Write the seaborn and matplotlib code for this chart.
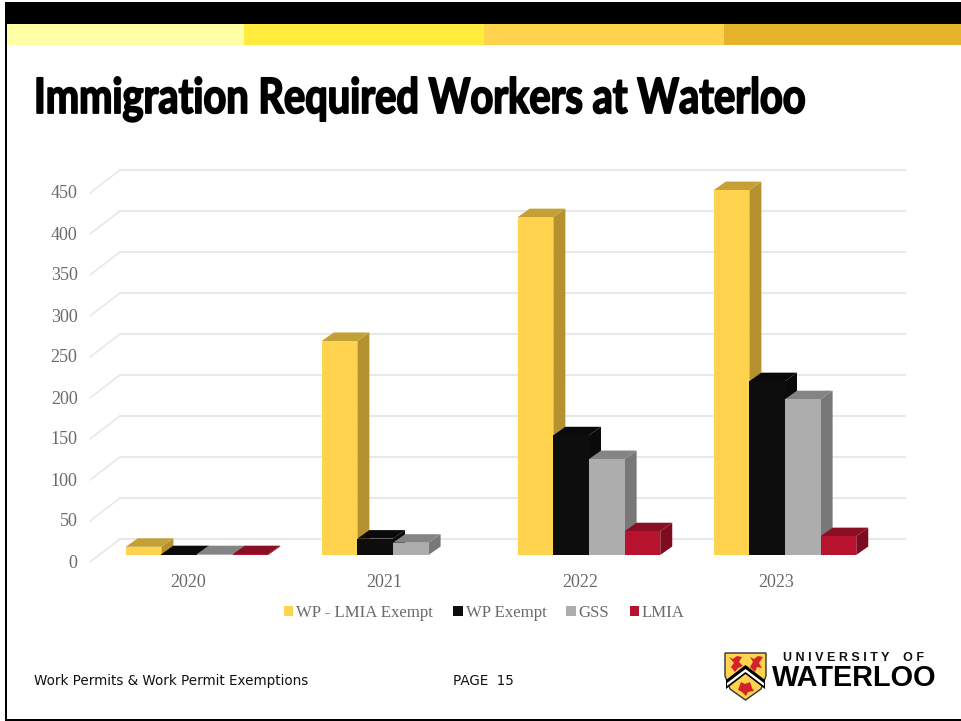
import matplotlib
matplotlib.use("Agg")
import matplotlib.pyplot as plt
import pandas as pd
import seaborn as sns
from matplotlib.patches import Polygon, Rectangle, Patch
from matplotlib.patheffects import AbstractPathEffect
from matplotlib.transforms import Affine2D

years = ["2020", "2021", "2022", "2023"]
wp_lmia_exempt = [10, 261, 412, 445]
wp_exempt = [1, 20, 146, 212]
gss = [1, 15, 117, 190]
lmia = [1, 0, 29, 23]
series_names = ["WP - LMIA Exempt", "WP Exempt", "GSS", "LMIA"]
y_ticks = [0, 50, 100, 150, 200, 250, 300, 350, 400, 450]

front = ["#FFD34D", "#0D0D0D", "#ADADAD", "#B7132F"]
side = ["#B5922F", "#0A0A0A", "#787878", "#7E0C20"]
top = ["#C5A036", "#0A0A0A", "#848484", "#8A0E24"]
strips = ["#FFFFA5", "#FFEC3C", "#FFD34D", "#E5B42B"]
text_grey = "#6A6A6A"
grid_grey = "#E8E8E8"
serif = ["Liberation Serif", "DejaVu Serif"]

W, H = 961, 721
DPI = 100
PX_PER_UNIT = 0.82
BAR_DEPTH_X, BAR_DEPTH_Y = 12, 8.5
WALL_X, WALL_Y = 30, 16


class Condensed(AbstractPathEffect):
    """Rescale glyph outlines about a pixel origin and thicken them."""

    def __init__(self, origin, scale_x, scale_y, stroke):
        super().__init__()
        self.origin, self.scale_x, self.scale_y, self.stroke = origin, scale_x, scale_y, stroke

    def draw_path(self, renderer, gc, tpath, affine, rgbFace=None):
        ox, oy = self.origin
        squeezed = affine + Affine2D().translate(-ox, -oy).scale(self.scale_x, self.scale_y).translate(ox, oy)
        gc0 = renderer.new_gc()
        gc0.copy_properties(gc)
        gc0.set_linewidth(self.stroke)
        gc0.set_foreground(rgbFace)
        renderer.draw_path(gc0, tpath, squeezed, rgbFace)
        gc0.restore()


sns.set_theme(style="white")
fig = plt.figure(figsize=(W / DPI, H / DPI), dpi=DPI, facecolor="white")

# Slide furniture is laid out in pixel units on a backing axes
bg = fig.add_axes([0, 0, 1, 1], zorder=0)
bg.set_xlim(0, W)
bg.set_ylim(H, 0)
bg.axis("off")
bg.add_patch(Rectangle((5, 2), W - 5, 22, color="black", lw=0))
bg.add_patch(Rectangle((5, 2), 2, H - 2, color="black", lw=0))
bg.add_patch(Rectangle((5, 719), W - 5, 2, color="black", lw=0))
for x0, x1, c in zip([7, 244, 484, 724], [244, 484, 724, W], strips):
    bg.add_patch(Rectangle((x0, 24), x1 - x0, 21, color=c, lw=0))

title = bg.text(34, 113, "Immigration Required Workers at Waterloo", fontsize=31,
                family=["Lato", "Liberation Sans"], weight="bold",
                color="black", va="baseline", ha="left")
fig.canvas.draw()
title_width = title.get_window_extent(fig.canvas.get_renderer()).width
title.set_path_effects([Condensed((34, H - 113), 771 / title_width, 35 / 31, 1.3)])

bg.text(34, 681, "Work Permits & Work Permit Exemptions", fontsize=9.72,
        family="DejaVu Sans", color="#111111", va="center")
bg.text(453, 681, "PAGE  15", fontsize=9.72, family="DejaVu Sans",
        color="#111111", va="center")

# University crest
bg.add_patch(Polygon([(725, 653), (766, 653), (766, 676), (761, 689), (745.5, 700),
                      (730, 689), (725, 676)], fc="#FFD34D", ec="#333333", lw=1))
bg.add_patch(Polygon([(726, 680), (745.5, 665), (765, 680), (765, 689), (745.5, 674),
                      (726, 689)], fc="black", lw=0))
bg.add_patch(Polygon([(727, 683), (745.5, 669), (764, 683), (764, 686), (745.5, 672),
                      (727, 686)], fc="white", lw=0))
for pts in ([(729, 657), (733, 659), (737, 656), (742, 657), (739, 662), (743, 666), (738, 668),
             (735, 672), (731, 667), (734, 663)],
            [(750, 657), (754, 659), (758, 656), (763, 657), (759, 663), (762, 668), (757, 667),
             (755, 672), (750, 667), (753, 662)],
            [(741, 682), (745, 684), (750, 682), (752, 688), (754, 691), (748, 692), (746, 696),
             (742, 692), (738, 690)]):
    bg.add_patch(Polygon(pts, fc="#D2232A", lw=0))
bg.text(783, 658, "U N I V E R S I T Y    O F", fontsize=9, family="Liberation Sans",
        weight="bold", color="#111111", va="center", ha="left")
bg.text(772, 678, "WATERLOO", fontsize=20.8, family="Liberation Sans", weight="bold",
        color="black", va="center", ha="left")

# Chart axes: the baseline of the bars sits on the lower edge
ax_left, ax_right, ax_top, ax_bottom = 90, 905, 165, 555
ax = fig.add_axes([ax_left / W, 1 - ax_bottom / H, (ax_right - ax_left) / W,
                   (ax_bottom - ax_top) / H], zorder=1)
ax.patch.set_alpha(0)

df = pd.DataFrame({"year": years, series_names[0]: wp_lmia_exempt, series_names[1]: wp_exempt,
                   series_names[2]: gss, series_names[3]: lmia}).melt(
    id_vars="year", var_name="series", value_name="workers")
sns.barplot(data=df, x="year", y="workers", hue="series", order=years, hue_order=series_names,
            palette=front, width=0.727, gap=0, saturation=1, linewidth=0, legend=False, ax=ax)

group_px, first_px = 196, 197
ax.set_xlim((ax_left - first_px) / group_px, (ax_right - first_px) / group_px)
ax.set_ylim(0, (ax_bottom - ax_top) / PX_PER_UNIT)
ax.set_xlabel("")
ax.set_ylabel("")
sns.despine(ax=ax, left=True, bottom=True)
ax.grid(False)

# Back wall and left wall gridlines, shifted in pixels behind the bars
wall = ax.get_yaxis_transform() + Affine2D().translate(0, WALL_Y)
wall_start = WALL_X / (ax_right - ax_left)
slant = ax.get_yaxis_transform()
for v in y_ticks:
    ax.plot([wall_start, 1], [v, v], color=grid_grey, lw=1.5, transform=wall, clip_on=False, zorder=0.5)
    ax.plot([0, wall_start], [v - 7 / PX_PER_UNIT, v + WALL_Y / PX_PER_UNIT], color=grid_grey,
            lw=1.2, transform=slant, clip_on=False, zorder=0.5)

# Extrude every bar into a side face and a top face
dx = BAR_DEPTH_X / group_px
dy = BAR_DEPTH_Y / PX_PER_UNIT
bars = []
for idx, container in enumerate(ax.containers):
    for rect in container:
        bars.append((rect.get_x(), idx, rect))
bars.sort(key=lambda b: b[0])
for order, (x0, idx, rect) in enumerate(bars):
    h = rect.get_height()
    if h <= 0:
        rect.set_visible(False)
        continue
    x1 = x0 + rect.get_width()
    base = 2 + order * 0.01
    ax.add_patch(Polygon([(x1, 0), (x1 + dx, dy), (x1 + dx, h + dy), (x1, h)], fc=side[idx], lw=0,
                         zorder=base, clip_on=False))
    ax.add_patch(Polygon([(x0, h), (x1, h), (x1 + dx, h + dy), (x0 + dx, h + dy)], fc=top[idx], lw=0,
                         zorder=base, clip_on=False))
    rect.set_zorder(base + 0.005)
    rect.set_clip_on(False)

ax.set_yticks(y_ticks)
ax.tick_params(axis="y", length=0, pad=9, labelsize=13, labelcolor=text_grey)
ax.tick_params(axis="x", length=0, pad=14, labelsize=13, labelcolor=text_grey)
for lab in ax.get_yticklabels():
    lab.set_family(serif)
    lab.set_transform(lab.get_transform() + Affine2D().translate(0, -6))
for lab in ax.get_xticklabels():
    lab.set_family(serif)
    lab.set_transform(lab.get_transform() + Affine2D().translate(-9, 0))

handles = [Patch(fc=c, lw=0) for c in front]
leg = ax.legend(handles, series_names, ncol=4, frameon=False, loc="center left",
                bbox_to_anchor=(194 / 815, -58 / 390), prop={"family": serif, "size": 12.1},
                labelcolor=text_grey, handlelength=0.55, handleheight=0.55, handletextpad=0.18,
                columnspacing=1.2, borderpad=0, borderaxespad=0)

fig.savefig("out.png", dpi=DPI, facecolor="white")
